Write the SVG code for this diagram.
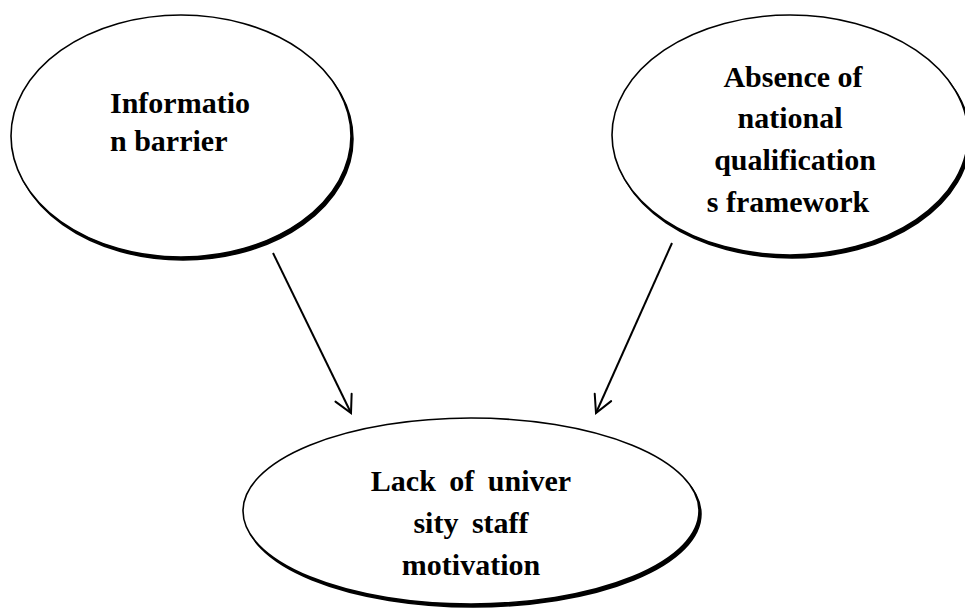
<svg xmlns="http://www.w3.org/2000/svg" width="965" height="608" viewBox="0 0 965 608">
<defs>
<style>
.shadow{fill:#000;stroke:#000;stroke-width:1.5}
.body{fill:#fff;stroke:#000;stroke-width:1.6}
.lbl{font-family:"Liberation Serif","Times New Roman",serif;font-weight:bold;font-size:30px;fill:#000}
.edge{fill:none;stroke:#000;stroke-width:2}
</style>
<marker id="arr" markerUnits="userSpaceOnUse" markerWidth="24" markerHeight="24" viewBox="-20 -12 24 24" refX="0" refY="0" orient="auto">
<path d="M-17,-9 L0,0 L-17,9" fill="none" stroke="#000" stroke-width="2" stroke-linecap="round" stroke-linejoin="miter"/>
</marker>
</defs>
<rect width="965" height="608" fill="#fff"/>
<g id="node-info">
<ellipse class="shadow" cx="183" cy="139" rx="170" ry="121"/>
<ellipse class="body" cx="181" cy="136" rx="170" ry="121"/>
<text class="lbl" x="110" y="113">Informatio</text>
<text class="lbl" x="110" y="151">n barrier</text>
</g>
<g id="node-nqf">
<ellipse class="shadow" cx="792" cy="138" rx="178" ry="120"/>
<ellipse class="body" cx="790" cy="135" rx="178" ry="120"/>
<text class="lbl" text-anchor="middle" x="793" y="87">Absence of</text>
<text class="lbl" text-anchor="middle" x="790" y="128">national</text>
<text class="lbl" text-anchor="middle" x="795" y="170">qualification</text>
<text class="lbl" text-anchor="middle" x="788" y="212">s framework</text>
</g>
<g id="node-motivation">
<ellipse class="shadow" cx="473" cy="514" rx="228" ry="93"/>
<ellipse class="body" cx="471" cy="511" rx="228" ry="93"/>
<text class="lbl" text-anchor="middle" x="471" y="491" word-spacing="6">Lack of univer</text>
<text class="lbl" text-anchor="middle" x="471" y="533" word-spacing="6">sity staff</text>
<text class="lbl" text-anchor="middle" x="471" y="575">motivation</text>
</g>
<g id="connectors">
<line class="edge" x1="273" y1="253" x2="351" y2="413" marker-end="url(#arr)"/>
<line class="edge" x1="672" y1="243" x2="596" y2="413" marker-end="url(#arr)"/>
</g>
</svg>
